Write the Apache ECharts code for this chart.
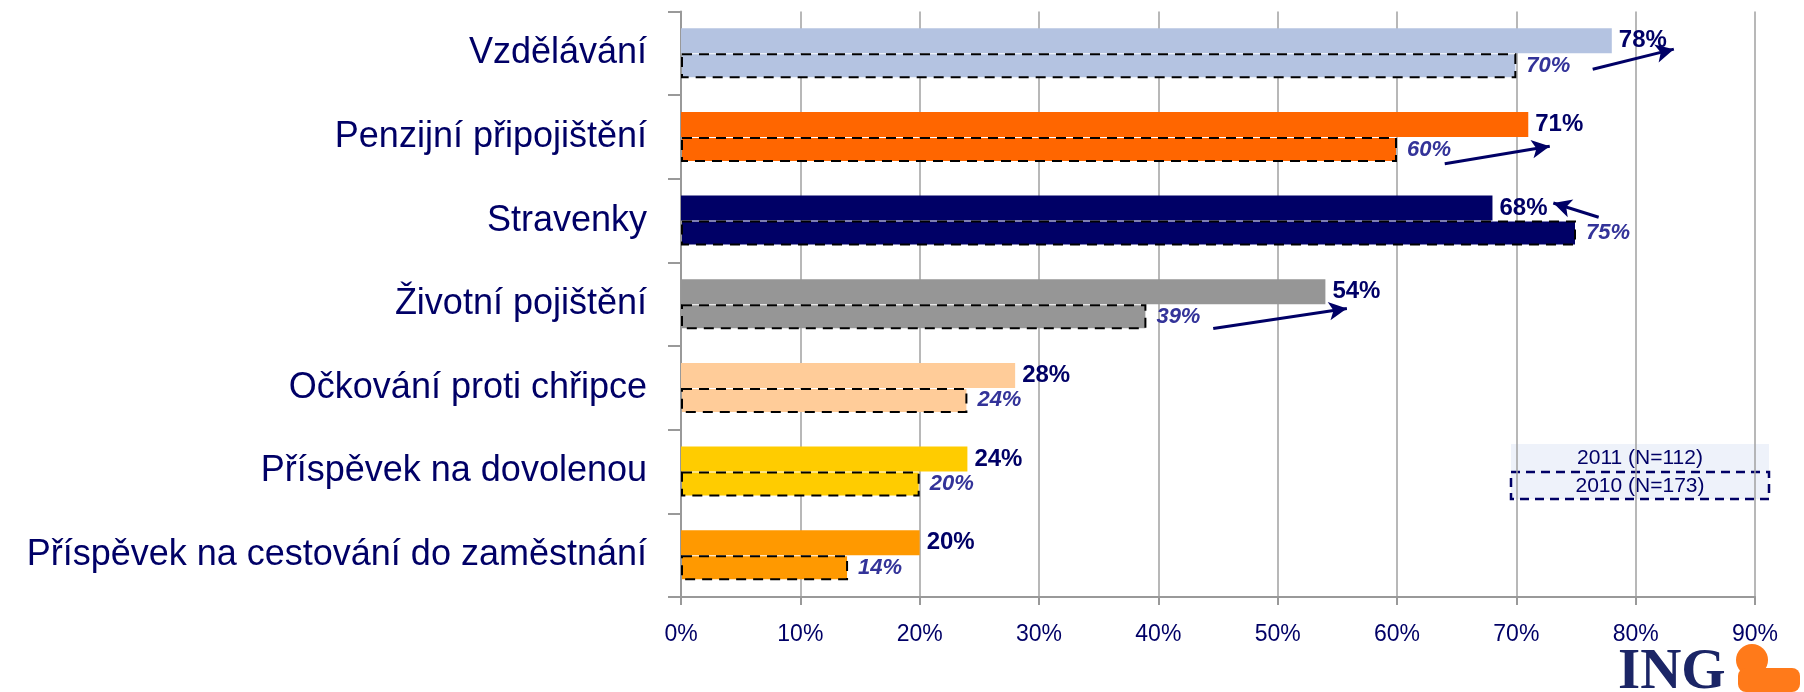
<!DOCTYPE html>
<html>
<head>
<meta charset="utf-8">
<script src="https://cdn.jsdelivr.net/npm/echarts@6/dist/echarts.min.js"></script>
<style>
  html, body { margin: 0; padding: 0; background: #fff; }
  #chart { width: 1804px; height: 692px; }
</style>
</head>
<body>
<div id="chart"></div>
<script>
  // data
  var categories = ['Vzdělávání', 'Penzijní připojištění', 'Stravenky', 'Životní pojištění',
    'Očkování proti chřipce', 'Příspěvek na dovolenou', 'Příspěvek na cestování do zaměstnání'];
  var values2011 = [78, 71, 68, 54, 28, 24, 20];
  var values2010 = [70, 60, 75, 39, 24, 20, 14];
  var seriesNames = ['2011 (N=112)', '2010 (N=173)'];
  var xTicks = [0, 10, 20, 30, 40, 50, 60, 70, 80, 90];
  var barColors = ['#b4c3e1', '#ff6600', '#000066', '#969696', '#ffcc99', '#ffcc00', '#ff9900'];
  // arrows: [x% from, category offset from, x% to, category offset to]
  var arrows = [
    [76.4, 0.19, 83.2, -0.05],
    [64.0, 1.32, 72.8, 1.11],
    [76.9, 1.96, 73.1, 1.79],
    [44.6, 3.29, 55.8, 3.05]
  ];

  var navy = '#000066';
  var font = "'Liberation Sans', Arial, sans-serif";

  var myChart = echarts.init(document.getElementById('chart'));

  var option = {
    animation: false,
    grid: { left: 681, right: 49, top: 11.5, bottom: 95 },
    xAxis: {
      type: 'value',
      min: xTicks[0],
      max: xTicks[xTicks.length - 1],
      interval: 10,
      axisLabel: {
        formatter: '{value}%',
        color: navy,
        fontFamily: font,
        fontSize: 23,
        margin: 26
      },
      axisLine: { show: true, lineStyle: { color: '#999', width: 2 } },
      axisTick: { show: true, length: 8, lineStyle: { color: '#999', width: 2 } },
      splitLine: { show: true, lineStyle: { color: '#a0a0a0', width: 1.5 } }
    },
    yAxis: {
      type: 'category',
      inverse: true,
      data: categories,
      axisLabel: {
        color: navy,
        fontFamily: font,
        fontSize: 36,
        margin: 34
      },
      axisLine: { show: true, lineStyle: { color: '#999', width: 2 } },
      axisTick: { show: true, length: 13, lineStyle: { color: '#999', width: 2 } }
    },
    series: [
      {
        name: seriesNames[0],
        type: 'bar',
        barWidth: 25,
        barGap: '0%',
        data: values2011.map(function (v, i) {
          return { value: v, itemStyle: { color: barColors[i] } };
        }),
        label: {
          show: true,
          position: 'right',
          distance: 7,
          formatter: '{c}%',
          color: navy,
          fontFamily: font,
          fontWeight: 'bold',
          fontSize: 24
        }
      },
      {
        name: seriesNames[1],
        type: 'bar',
        barWidth: 25,
        data: values2010.map(function (v, i) {
          return {
            value: v,
            itemStyle: { color: barColors[i], borderColor: '#000', borderWidth: 2, borderType: [10, 7] }
          };
        }),
        label: {
          show: true,
          position: 'right',
          distance: 10,
          formatter: '{c}%',
          color: '#333399',
          fontFamily: font,
          fontWeight: 'bold',
          fontStyle: 'italic',
          fontSize: 22
        }
      }
    ],
    graphic: [
      // legend
      { type: 'rect', shape: { x: 1511, y: 444, width: 258, height: 28 }, style: { fill: '#eef2fa' } },
      { type: 'rect', shape: { x: 1511, y: 472, width: 258, height: 27 },
        style: { fill: '#eef2fa', stroke: navy, lineWidth: 2.5, lineDash: [9, 6] } },
      { type: 'text', x: 1640, y: 458, style: { text: seriesNames[0], fill: navy, font: '21px ' + font, align: 'center', verticalAlign: 'middle' } },
      { type: 'text', x: 1640, y: 486, style: { text: seriesNames[1], fill: navy, font: '21px ' + font, align: 'center', verticalAlign: 'middle' } },
      // ING logo
      { type: 'text', x: 1618, y: 702, style: { text: 'ING', fill: '#1b2566', font: "bold 57px 'Liberation Serif', 'DejaVu Serif', serif", verticalAlign: 'bottom' } },
      { type: 'circle', shape: { cx: 1752, cy: 660, r: 16 }, style: { fill: '#ff7a1a' } },
      { type: 'rect', shape: { x: 1738, y: 668, width: 62, height: 24, r: 8 }, style: { fill: '#ff7a1a' } }
    ]
  };

  myChart.setOption(option);

  // arrows drawn through the chart's own scales
  var y0 = myChart.convertToPixel({ yAxisIndex: 0 }, 0);
  var band = myChart.convertToPixel({ yAxisIndex: 0 }, 1) - y0;
  function toPx(xv, yv) {
    var base = Math.floor(yv + 0.5);
    var py = myChart.convertToPixel({ yAxisIndex: 0 }, base) + (yv - base) * band;
    return { x: myChart.convertToPixel({ xAxisIndex: 0 }, xv), y: py };
  }
  var arrowLines = arrows.map(function (a) {
    return [toPx(a[0], a[1]), toPx(a[2], a[3])];
  });
  myChart.setOption({
    series: [{
      markLine: {
        silent: true,
        symbol: ['none', 'arrow'],
        symbolSize: [14, 18],
        label: { show: false },
        lineStyle: { color: navy, width: 3, type: 'solid' },
        data: arrowLines
      }
    }]
  });
</script>
</body>
</html>
